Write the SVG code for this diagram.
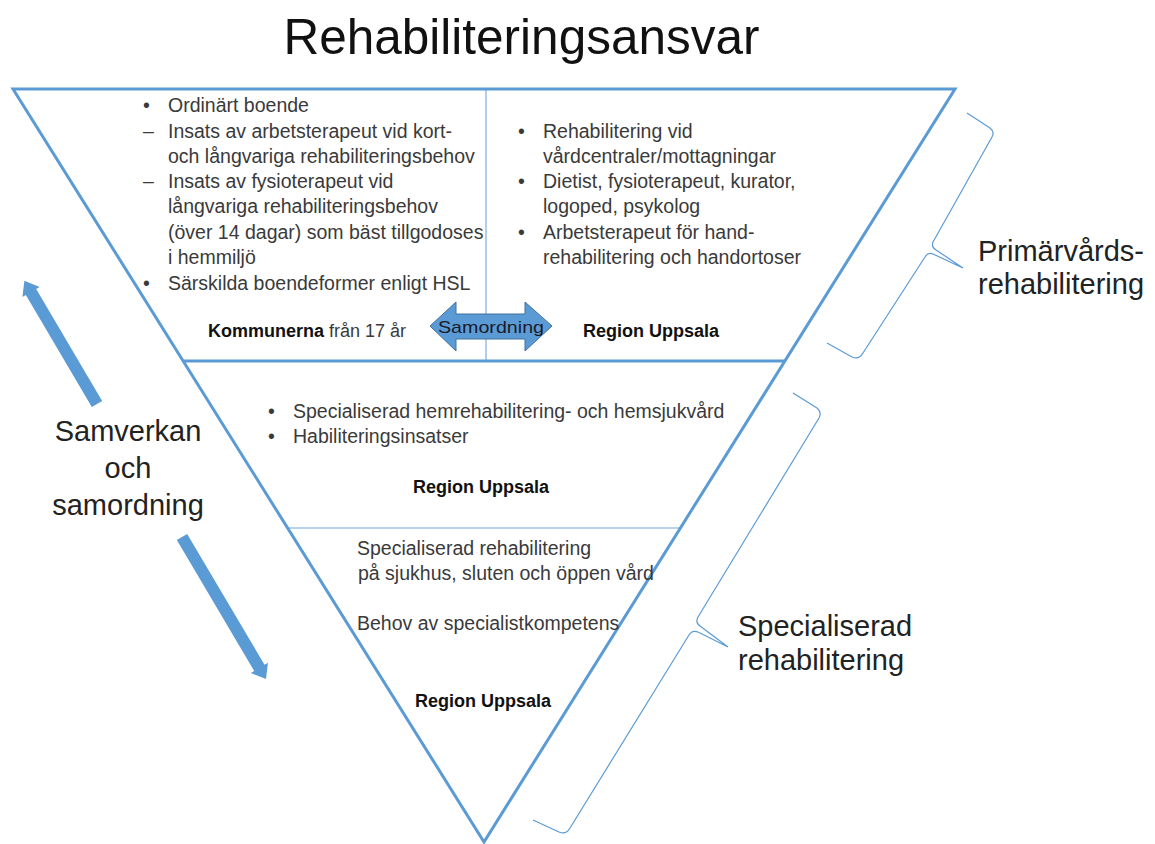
<svg xmlns="http://www.w3.org/2000/svg" width="1155" height="844" viewBox="0 0 1155 844">
<style>
text{font-family:"Liberation Sans",Arial,sans-serif;}
.body{font-size:19.5px;fill:#3a3a3a;}
.bold{font-size:18px;font-weight:bold;fill:#111;}
.reg{font-size:18px;fill:#3a3a3a;}
.lbl{font-size:29px;fill:#222;}
.title{font-size:49.5px;fill:#111;}
.edge{fill:none;stroke:#5B9BD5;stroke-width:3;}
.thin{fill:none;stroke:#9DC3E6;stroke-width:1.6;}
.brace{fill:none;stroke:#5B9BD5;stroke-width:1.2;stroke-linejoin:round;}
.barrow{fill:#5B9BD5;}
</style>
<rect width="1155" height="844" fill="#ffffff"/>
<g id="title">
<text class="title" x="521.5" y="54" text-anchor="middle">Rehabiliteringsansvar</text>
</g>
<g id="triangle">
<line class="thin" x1="486" y1="90" x2="486" y2="361"/>
<line class="thin" x1="288" y1="528" x2="680" y2="528"/>
<line class="edge" x1="183" y1="361" x2="785" y2="361"/>
<polygon class="edge" points="13,89 955,89 484,842"/>
</g>
<g id="kommunerna">
<text class="body" x="143" y="112">•</text>
<text class="body" x="168" y="112">Ordinärt boende</text>
<text class="body" x="143" y="138">–</text>
<text class="body" x="168" y="138">Insats av arbetsterapeut vid kort-</text>
<text class="body" x="168" y="163">och långvariga rehabiliteringsbehov</text>
<text class="body" x="143" y="188">–</text>
<text class="body" x="168" y="188">Insats av fysioterapeut vid</text>
<text class="body" x="168" y="213">långvariga rehabiliteringsbehov</text>
<text class="body" x="168" y="239">(över 14 dagar) som bäst tillgodoses</text>
<text class="body" x="168" y="264">i hemmiljö</text>
<text class="body" x="143" y="290">•</text>
<text class="body" x="168" y="290">Särskilda boendeformer enligt HSL</text>
<text x="208" y="337"><tspan class="bold">Kommunerna</tspan><tspan class="reg"> från 17 år</tspan></text>
</g>
<g id="region-primarvard">
<text class="body" x="518" y="138">•</text>
<text class="body" x="543" y="138">Rehabilitering vid</text>
<text class="body" x="543" y="163">vårdcentraler/mottagningar</text>
<text class="body" x="518" y="188">•</text>
<text class="body" x="543" y="188">Dietist, fysioterapeut, kurator,</text>
<text class="body" x="543" y="213">logoped, psykolog</text>
<text class="body" x="518" y="239">•</text>
<text class="body" x="543" y="239">Arbetsterapeut för hand-</text>
<text class="body" x="543" y="264">rehabilitering och handortoser</text>
<text class="bold" x="583" y="337">Region Uppsala</text>
</g>
<g id="samordning">
<polygon points="430,326 456,302 456,314 525,314 525,302 552,326 525,351 525,339 456,339 456,351" fill="#5B9BD5" stroke="#41719C" stroke-width="1"/>
<text x="491" y="333" text-anchor="middle" font-size="17" fill="#1a1a2a" textLength="106" lengthAdjust="spacingAndGlyphs">Samordning</text>
</g>
<g id="specialiserad-hem">
<text class="body" x="268" y="418">•</text>
<text class="body" x="293" y="418">Specialiserad hemrehabilitering- och hemsjukvård</text>
<text class="body" x="268" y="443">•</text>
<text class="body" x="293" y="443">Habiliteringsinsatser</text>
<text class="bold" x="413" y="493">Region Uppsala</text>
</g>
<g id="specialiserad-sjukhus">
<text class="body" x="357" y="555">Specialiserad rehabilitering</text>
<text class="body" x="358" y="580">på sjukhus, sluten och öppen vård</text>
<text class="body" x="357" y="630">Behov av specialistkompetens</text>
<text class="bold" x="415" y="707">Region Uppsala</text>
</g>
<g id="brace-primarvard">
<path class="brace" d="M967,113 L990,128 Q995,132 992,137 L933,242 Q931,247 936,250 L963,268 M963,268 L933,254 Q928,252 925,257 L863,353 Q859,360 852,357 L827,343"/>
<text class="lbl" x="978" y="261">Primärvårds-</text>
<text class="lbl" x="978" y="294">rehabilitering</text>
</g>
<g id="brace-specialiserad">
<path class="brace" d="M793,393 L817,408 Q822,412 819,418 L698,617 Q695,623 700,626 L728,647 M728,647 L698,632 Q692,630 689,635 L570,828 Q566,835 559,832 L533,820"/>
<text class="lbl" x="738" y="636">Specialiserad</text>
<text class="lbl" x="738" y="670">rehabilitering</text>
</g>
<g id="samverkan">
<text class="lbl" x="128" y="441" text-anchor="middle">Samverkan</text>
<text class="lbl" x="128" y="478" text-anchor="middle">och</text>
<text class="lbl" x="128" y="515" text-anchor="middle">samordning</text>
</g>
<g id="connectors">
<polygon class="barrow" transform="translate(97,404) rotate(-120.5)" points="0,-6 130,-6 130,-10 143,0 130,10 130,6 0,6"/>
<polygon class="barrow" transform="translate(182,537) rotate(59.4)" points="0,-6 152,-6 152,-10 165,0 152,10 152,6 0,6"/>
</g>
</svg>
